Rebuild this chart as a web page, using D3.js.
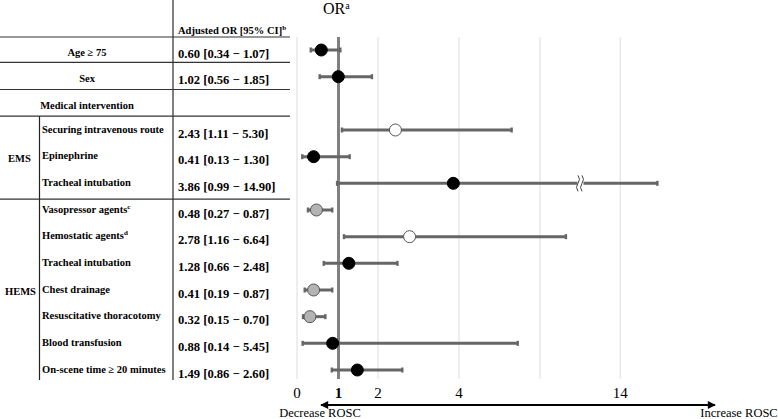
<!DOCTYPE html>
<html>
<head>
<meta charset="utf-8">
<script src="https://cdn.jsdelivr.net/npm/d3@7"></script>
<style>
  html, body { margin: 0; padding: 0; background: #fff; }
  svg { display: block; font-family: "Liberation Serif", "Times New Roman", serif; }
</style>
</head>
<body>
<svg id="chart" width="778" height="419"></svg>
<script>
// ---------- data ----------
const rowLabels = ["Age ≥ 75", "Sex", "Medical intervention", "Securing intravenous route", "Epinephrine",
  "Tracheal intubation", "Vasopressor agents", "Hemostatic agents", "Tracheal intubation", "Chest drainage",
  "Resuscitative thoracotomy", "Blood transfusion", "On-scene time ≥ 20 minutes"];
const labelSup = ["", "", "", "", "", "", "c", "d", "", "", "", "", ""];
const orValues = [0.60, 1.02, null, 2.43, 0.41, 3.86, 0.48, 2.78, 1.28, 0.41, 0.32, 0.88, 1.49];
const ciLower  = [0.34, 0.56, null, 1.11, 0.13, 0.99, 0.27, 1.16, 0.66, 0.19, 0.15, 0.14, 0.86];
const ciUpper  = [1.07, 1.85, null, 5.30, 1.30, 14.90, 0.87, 6.64, 2.48, 0.87, 0.70, 5.45, 2.60];
const markerKind = ["black", "black", null, "white", "black", "black", "gray", "white", "black", "gray", "gray", "black", "black"];
const groupNames = ["EMS", "HEMS"];
const tickValues = [0, 1, 2, 4, 14];
const gridValues = [0, 2, 4, 6, 14];
const breakValue = 13.04;

// ---------- layout ----------
const svg = d3.select("#chart");
const rowIdx = d3.range(rowLabels.length);
const y = d3.scalePoint().domain(rowIdx).range([50, 370]);
// broken axis: 0..7 linear, then jump to ~13
const x = d3.scaleLinear().domain([0, 7, breakValue, 15]).range([297, 580.5, 580.5, 661.5]);

const plotTop = 37, plotBottom = 379;
const colDivX = 173, subColX = 39.5, tableRight = 290;

// gridlines
svg.append("g").selectAll("line").data(gridValues).join("line")
  .attr("x1", d => x(d)).attr("x2", d => x(d))
  .attr("y1", plotTop).attr("y2", plotBottom)
  .attr("stroke", "#dcdcdc").attr("stroke-width", 1);

// reference line at OR = 1
svg.append("line")
  .attr("x1", x(1) + 1).attr("x2", x(1) + 1)
  .attr("y1", plotTop).attr("y2", plotBottom)
  .attr("stroke", "#808080").attr("stroke-width", 3);

// tick labels
svg.append("g").selectAll("text").data(tickValues).join("text")
  .attr("x", d => x(d) + (d === 1 ? 1 : 0)).attr("y", 398)
  .attr("text-anchor", "middle")
  .attr("font-size", 15)
  .attr("font-weight", d => d === 1 ? "bold" : "normal")
  .text(d => d);

// title
svg.append("text").attr("x", 323).attr("y", 14).attr("font-size", 16)
  .text("OR").append("tspan").attr("font-size", 10).attr("dy", -5).text("a");

// ---------- table ----------
const tbl = svg.append("g");
tbl.append("line").attr("x1", colDivX).attr("x2", colDivX).attr("y1", 0).attr("y2", 380)
  .attr("stroke", "#555").attr("stroke-width", 1.5);
tbl.append("line").attr("x1", subColX).attr("x2", subColX).attr("y1", 116).attr("y2", 380)
  .attr("stroke", "#222").attr("stroke-width", 1.2);

const hLines = [plotTop, (y(0) + y(1)) / 2 - 1, (y(1) + y(2)) / 2 - 0.5, (y(2) + y(3)) / 2 - 0.5, (y(5) + y(6)) / 2 + 2.5];
tbl.selectAll("line.h").data(hLines).join("line").attr("class", "h")
  .attr("x1", 0).attr("x2", tableRight).attr("y1", d => d).attr("y2", d => d)
  .attr("stroke", "#333").attr("stroke-width", 1.2);

// header
const hdr = tbl.append("text").attr("x", 178).attr("y", 34).attr("font-size", 10.5).attr("font-weight", "bold")
  .text("Adjusted OR [95% CI]");
hdr.append("tspan").attr("font-size", 7).attr("dy", -4).text("b");

// row labels
rowIdx.forEach(i => {
  const centered = i < 3;
  const t = tbl.append("text")
    .attr("x", centered ? 87 : 42)
    .attr("y", y(i) + (centered ? 5.5 : 2.5))
    .attr("text-anchor", centered ? "middle" : "start")
    .attr("font-size", 10.5).attr("font-weight", "bold")
    .text(rowLabels[i]);
  if (labelSup[i]) t.append("tspan").attr("font-size", 7).attr("dy", -4).text(labelSup[i]);
});

// group labels
tbl.append("text").attr("x", 8).attr("y", y(4) + 5).attr("font-size", 10.5).attr("font-weight", "bold").text(groupNames[0]);
tbl.append("text").attr("x", 5).attr("y", y(9) + 5).attr("font-size", 10.5).attr("font-weight", "bold").text(groupNames[1]);

// values
const f = d3.format(".2f");
rowIdx.filter(i => orValues[i] !== null).forEach(i => {
  tbl.append("text").attr("x", 178).attr("y", y(i) + 7.5)
    .attr("font-size", 12.6).attr("font-weight", "bold")
    .text(`${f(orValues[i])} [${f(ciLower[i])} \u2212 ${f(ciUpper[i])}]`);
});

// ---------- forest marks ----------
const marks = svg.append("g");
const valid = rowIdx.filter(i => orValues[i] !== null);
marks.selectAll("line.ci").data(valid).join("line").attr("class", "ci")
  .attr("x1", i => x(ciLower[i])).attr("x2", i => x(ciUpper[i]))
  .attr("y1", i => y(i)).attr("y2", i => y(i))
  .attr("stroke", "#666").attr("stroke-width", 3);
marks.selectAll("rect.capL").data(valid).join("rect").attr("class", "capL")
  .attr("x", i => x(ciLower[i]) - 1.2).attr("y", i => y(i) - 2.5)
  .attr("width", 2.4).attr("height", 5).attr("fill", "#666");
marks.selectAll("rect.capR").data(valid).join("rect").attr("class", "capR")
  .attr("x", i => x(ciUpper[i]) - 1.2).attr("y", i => y(i) - 2.5)
  .attr("width", 2.4).attr("height", 5).attr("fill", "#666");

// axis break marker on the long CI
const bx = x(breakValue), by = y(5);
const brk = marks.append("g");
brk.append("rect").attr("x", bx - 3).attr("y", by - 3).attr("width", 6).attr("height", 6).attr("fill", "#fff");
[-2.5, 1.5].forEach(dx => {
  brk.append("path")
    .attr("d", `M${bx + dx},${by - 8} q3,4 0,8 q-3,4 0,8`)
    .attr("fill", "none").attr("stroke", "#444").attr("stroke-width", 1);
});

const fillOf = k => k === "black" ? "#000" : k === "gray" ? "#b3b3b3" : "#fff";
const strokeOf = k => k === "black" ? "#000" : "#555";
marks.selectAll("circle").data(valid).join("circle")
  .attr("cx", i => x(orValues[i])).attr("cy", i => y(i))
  .attr("r", 6)
  .attr("fill", i => fillOf(markerKind[i]))
  .attr("stroke", i => strokeOf(markerKind[i]))
  .attr("stroke-width", 1);

// ---------- bottom arrow ----------
const defs = svg.append("defs");
defs.append("marker").attr("id", "ah").attr("viewBox", "0 0 10 10").attr("refX", 9).attr("refY", 5)
  .attr("markerWidth", 5).attr("markerHeight", 4).attr("markerUnits", "strokeWidth")
  .attr("orient", "auto-start-reverse")
  .append("path").attr("d", "M0,0 L10,5 L0,10 z").attr("fill", "#000");
svg.append("line").attr("x1", 321).attr("x2", 715).attr("y1", 405).attr("y2", 405)
  .attr("stroke", "#000").attr("stroke-width", 2)
  .attr("marker-start", "url(#ah)").attr("marker-end", "url(#ah)");
svg.append("text").attr("x", 320).attr("y", 417).attr("text-anchor", "middle").attr("font-size", 12.5).text("Decrease ROSC");
svg.append("text").attr("x", 739).attr("y", 417).attr("text-anchor", "middle").attr("font-size", 12.5).text("Increase ROSC");
</script>
</body>
</html>
